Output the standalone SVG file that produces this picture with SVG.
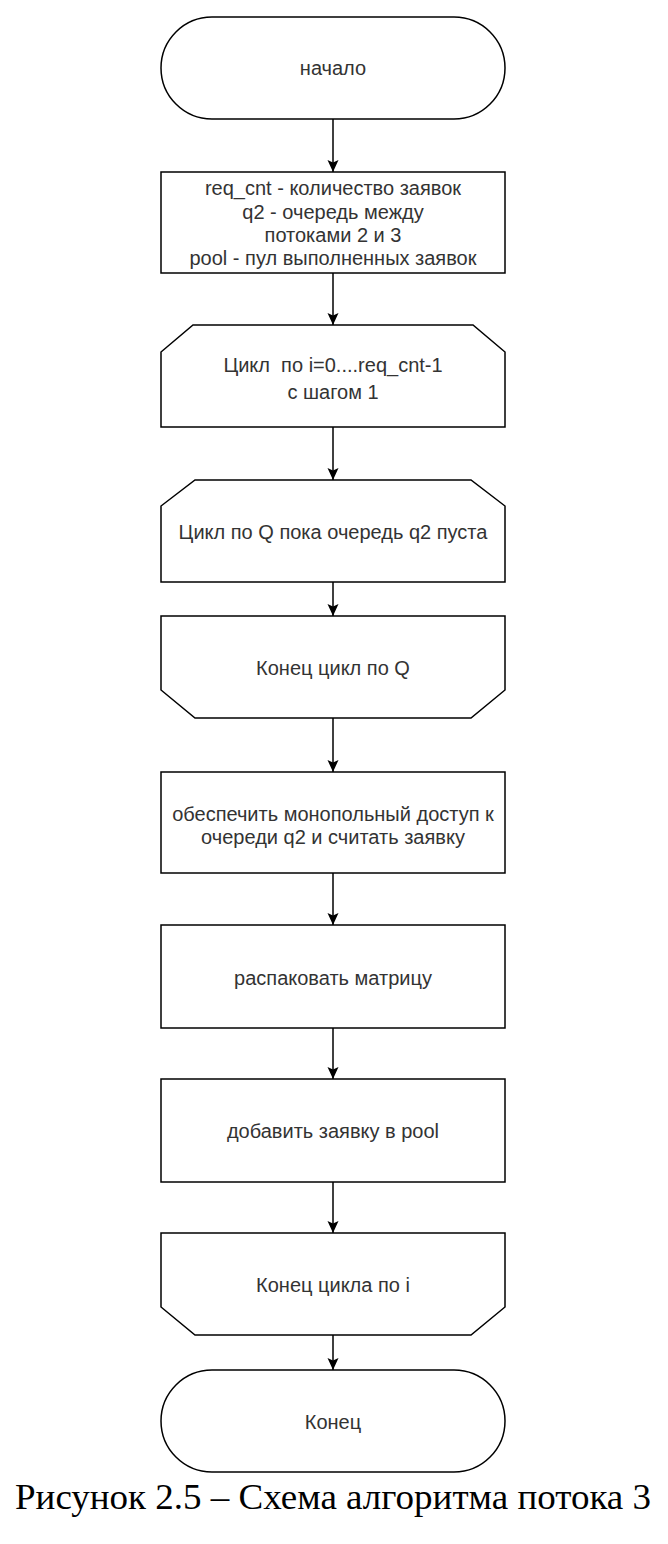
<svg xmlns="http://www.w3.org/2000/svg" width="668" height="1544" viewBox="0 0 668 1544">
<style>
.s{fill:#fff;stroke:#000;stroke-width:1.5}
.t{font-family:"Liberation Sans",Arial,sans-serif;font-size:20px;fill:#333;text-anchor:middle}
.c{stroke:#000;stroke-width:1.5;fill:none}
.cap{font-family:"Liberation Serif","DejaVu Serif",serif;font-size:35px;fill:#000}
</style>
<defs>
<marker id="arr" markerUnits="userSpaceOnUse" markerWidth="14" markerHeight="14" refX="12" refY="6" orient="auto">
<path d="M0,0.5 L12,6 L0,11.5 L2.5,6 Z" fill="#000"/>
</marker>
</defs>
<rect width="668" height="1544" fill="#fff"/>
<g id="connectors">
<line class="c" x1="333" y1="119" x2="333" y2="172" marker-end="url(#arr)"/>
<line class="c" x1="333" y1="273" x2="333" y2="325" marker-end="url(#arr)"/>
<line class="c" x1="333" y1="427" x2="333" y2="480" marker-end="url(#arr)"/>
<line class="c" x1="333" y1="582" x2="333" y2="616" marker-end="url(#arr)"/>
<line class="c" x1="333" y1="718" x2="333" y2="772" marker-end="url(#arr)"/>
<line class="c" x1="333" y1="873" x2="333" y2="925" marker-end="url(#arr)"/>
<line class="c" x1="333" y1="1028" x2="333" y2="1079" marker-end="url(#arr)"/>
<line class="c" x1="333" y1="1182" x2="333" y2="1233" marker-end="url(#arr)"/>
<line class="c" x1="333" y1="1335" x2="333" y2="1370" marker-end="url(#arr)"/>
</g>
<g id="start">
<rect class="s" x="161" y="17" width="344" height="102" rx="51" ry="51"/>
<text class="t" x="333" y="75">начало</text>
</g>
<g id="vars">
<rect class="s" x="161" y="172" width="344" height="101"/>
<text class="t" x="333" y="195">req_cnt - количество заявок</text>
<text class="t" x="333" y="219">q2 - очередь между</text>
<text class="t" x="333" y="242">потоками 2 и 3</text>
<text class="t" x="333" y="265">pool - пул выполненных заявок</text>
</g>
<g id="loop-i">
<polygon class="s" points="193,325 473,325 505,352 505,427 161,427 161,352"/>
<text class="t" x="333" y="372" xml:space="preserve">Цикл  по i=0....req_cnt-1</text>
<text class="t" x="333" y="399">с шагом 1</text>
</g>
<g id="loop-q">
<polygon class="s" points="195,480 471,480 505,506 505,582 161,582 161,506"/>
<text class="t" x="333" y="539">Цикл по Q пока очередь q2 пуста</text>
</g>
<g id="end-loop-q">
<polygon class="s" points="161,616 505,616 505,690 471,718 195,718 161,690"/>
<text class="t" x="333" y="675">Конец цикл по Q</text>
</g>
<g id="lock-read">
<rect class="s" x="161" y="772" width="344" height="101"/>
<text class="t" x="333" y="821">обеспечить монопольный доступ к</text>
<text class="t" x="333" y="844">очереди q2 и считать заявку</text>
</g>
<g id="unpack">
<rect class="s" x="161" y="925" width="344" height="103"/>
<text class="t" x="333" y="985">распаковать матрицу</text>
</g>
<g id="add-pool">
<rect class="s" x="161" y="1079" width="344" height="103"/>
<text class="t" x="333" y="1138">добавить заявку в pool</text>
</g>
<g id="end-loop-i">
<polygon class="s" points="161,1233 505,1233 505,1307 471,1335 195,1335 161,1307"/>
<text class="t" x="333" y="1292">Конец цикла по i</text>
</g>
<g id="end">
<rect class="s" x="161" y="1370" width="344" height="102" rx="51" ry="51"/>
<text class="t" x="333" y="1429">Конец</text>
</g>
<text class="cap" x="15" y="1509" textLength="636" lengthAdjust="spacingAndGlyphs">Рисунок 2.5 – Схема алгоритма потока 3</text>
</svg>
